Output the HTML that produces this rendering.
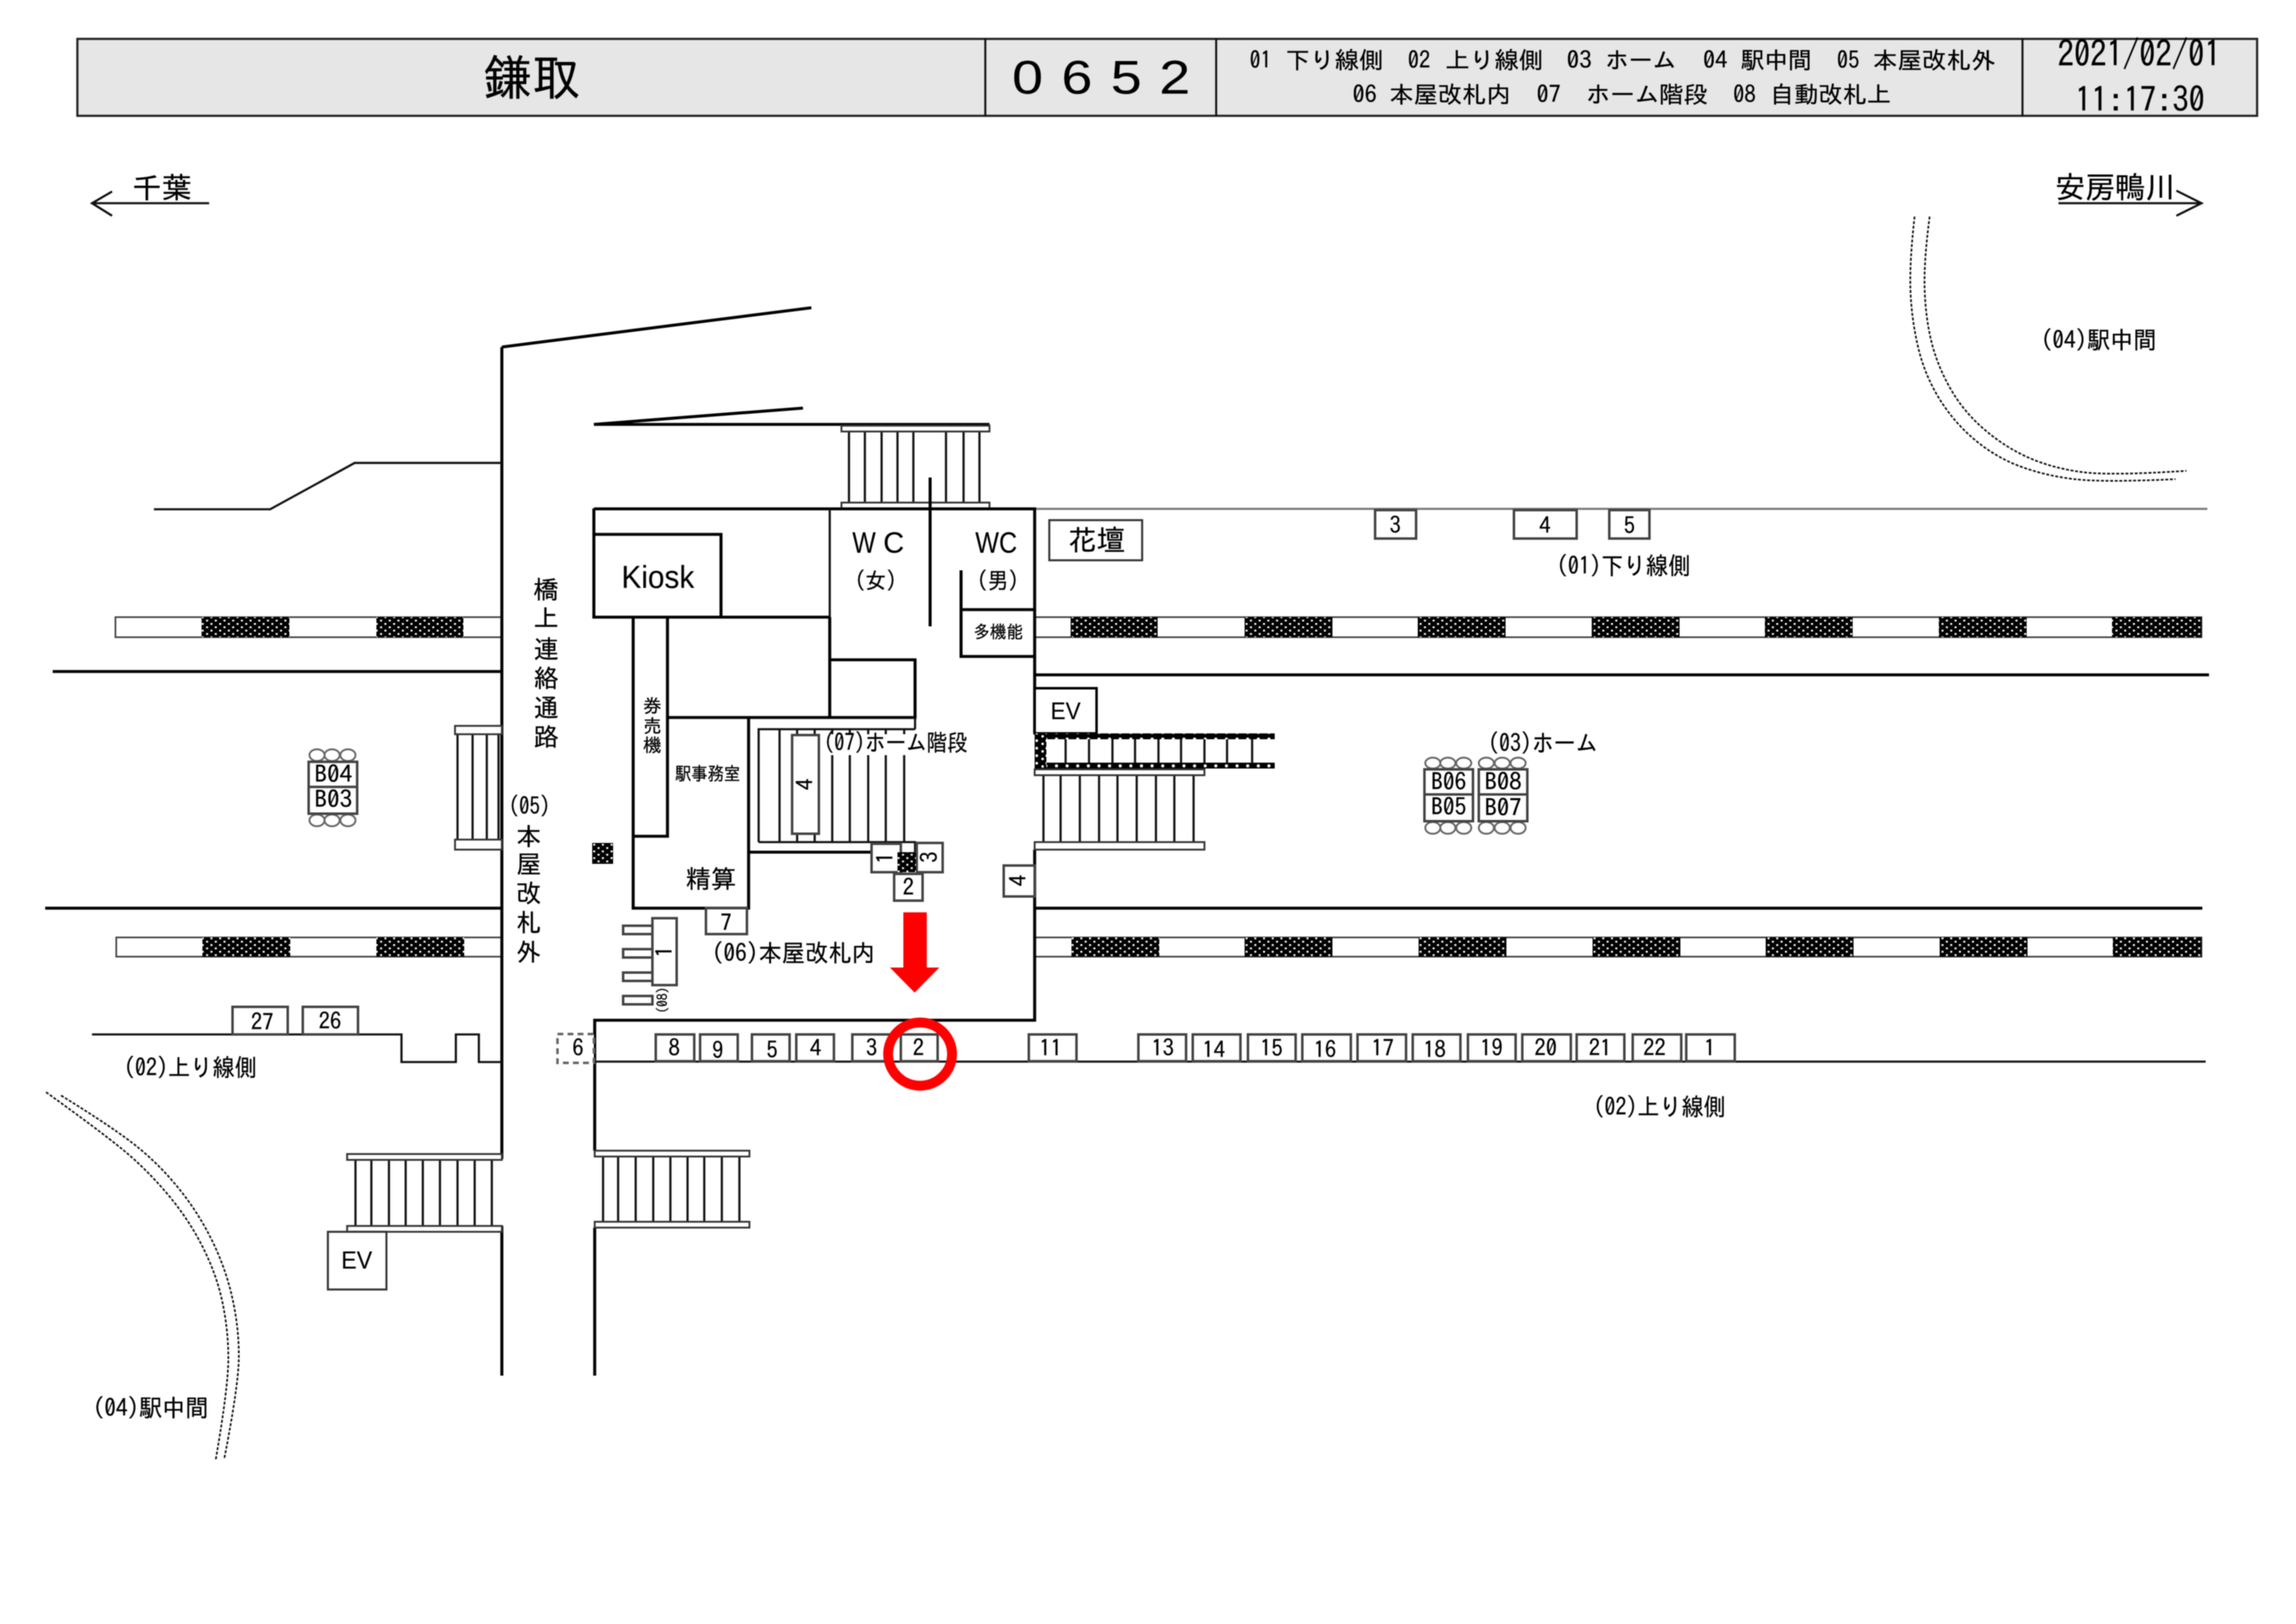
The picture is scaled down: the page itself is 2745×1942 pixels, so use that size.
<!DOCTYPE html>
<html lang="ja">
<head>
<meta charset="utf-8">
<title>鎌取 0652</title>
<style>
html,body{margin:0;padding:0;background:#fff}
svg{display:block;filter:blur(.5px)}
text{font-family:"IPAGothic","Liberation Sans","Noto Sans CJK JP",sans-serif;fill:#000;stroke:#000;stroke-width:.3}
.ls{font-family:"Liberation Sans","IPAGothic",sans-serif;stroke-width:.1}
.n{font-size:27px;text-anchor:middle}
.box{fill:#fff;stroke:#444;stroke-width:3}
.rail{fill:#fff;stroke:#333;stroke-width:2.2}
.t{stroke:#000;stroke-width:3.6;fill:none}
.m{stroke:#111;stroke-width:2.6;fill:none}
.s{stroke:#222;stroke-width:2;fill:none}
.c{fill:#fff;stroke:#666;stroke-width:2.2}
.d{stroke:#111;stroke-width:2;fill:none;stroke-dasharray:3.5 2}
</style>
</head>
<body>
<svg xmlns="http://www.w3.org/2000/svg" width="2745" height="1942" viewBox="0 0 2745 1942">
<defs>
<pattern id="dots" width="10.4" height="8" patternUnits="userSpaceOnUse">
<rect width="10.4" height="8" fill="#000"/>
<rect x="2" y="1" width="2.4" height="2.2" fill="#fff"/>
<rect x="7.2" y="5" width="2.4" height="2.2" fill="#fff"/>
</pattern>
<pattern id="esc" width="12.7" height="8" patternUnits="userSpaceOnUse">
<rect width="12.7" height="8" fill="#000"/>
<rect x="4" y="2" width="3.6" height="3.6" rx="1.5" fill="#fff"/>
</pattern>
<pattern id="escv" width="12" height="9" patternUnits="userSpaceOnUse">
<rect width="12" height="9" fill="#000"/>
<rect x="2" y="2" width="3" height="3.4" rx="1.4" fill="#fff"/>
<rect x="9" y="6" width="3" height="3" rx="1.4" fill="#fff"/>
</pattern>
</defs>
<rect width="2745" height="1942" fill="#fff"/>

<!-- header -->
<rect x="92.5" y="46.5" width="2606" height="92" fill="#e6e6e6" stroke="#222" stroke-width="2.6"/>
<path d="M1178 46V139M1454 46V139M2418 46V139" stroke="#111" stroke-width="2.4" fill="none"/>
<text x="578" y="114" font-size="58" textLength="116" lengthAdjust="spacingAndGlyphs" stroke-width=".8">鎌取</text>
<g font-size="57">
<text class="ls" x="1210" y="112" textLength="37" lengthAdjust="spacingAndGlyphs">0</text>
<text class="ls" x="1269" y="112" textLength="37" lengthAdjust="spacingAndGlyphs">6</text>
<text class="ls" x="1328" y="112" textLength="37" lengthAdjust="spacingAndGlyphs">5</text>
<text class="ls" x="1386" y="112" textLength="37" lengthAdjust="spacingAndGlyphs">2</text>
</g>
<g font-size="28">
<text x="1494" y="82" textLength="26" lengthAdjust="spacingAndGlyphs">01</text>
<text x="1537" y="82" textLength="117" lengthAdjust="spacingAndGlyphs">下り線側</text>
<text x="1683" y="82" textLength="27" lengthAdjust="spacingAndGlyphs">02</text>
<text x="1728" y="82" textLength="117" lengthAdjust="spacingAndGlyphs">上り線側</text>
<text x="1873" y="82" textLength="30" lengthAdjust="spacingAndGlyphs">03</text>
<text x="1919" y="82" textLength="85" lengthAdjust="spacingAndGlyphs">ホーム</text>
<text x="2036" y="82" textLength="29" lengthAdjust="spacingAndGlyphs">04</text>
<text x="2081" y="82" textLength="85" lengthAdjust="spacingAndGlyphs">駅中間</text>
<text x="2196" y="82" textLength="27" lengthAdjust="spacingAndGlyphs">05</text>
<text x="2239" y="82" textLength="147" lengthAdjust="spacingAndGlyphs">本屋改札外</text>
<text x="1617" y="123" textLength="29" lengthAdjust="spacingAndGlyphs">06</text>
<text x="1661" y="123" textLength="145" lengthAdjust="spacingAndGlyphs">本屋改札内</text>
<text x="1837" y="123" textLength="29" lengthAdjust="spacingAndGlyphs">07</text>
<text x="1896" y="123" textLength="146" lengthAdjust="spacingAndGlyphs">ホーム階段</text>
<text x="2072" y="123" textLength="27" lengthAdjust="spacingAndGlyphs">08</text>
<text x="2116" y="123" textLength="145" lengthAdjust="spacingAndGlyphs">自動改札上</text>
</g>
<text x="2460" y="80" font-size="43" textLength="195" lengthAdjust="spacingAndGlyphs">2021/02/01</text>
<text x="2481" y="134" font-size="41" textLength="155" lengthAdjust="spacingAndGlyphs">11:17:30</text>

<!-- direction arrows -->
<path d="M250 243H110M134 229L110 243L134 258" class="m"/>
<text x="158" y="237" font-size="35" textLength="71" lengthAdjust="spacingAndGlyphs">千葉</text>
<path d="M2461 243H2632M2602 228L2632 243L2602 258" class="m"/>
<text x="2457" y="237" font-size="36" textLength="144" lengthAdjust="spacingAndGlyphs">安房鴨川</text>

<!-- curved dotted -->
<path class="d" d="M2289 259Q2283 312 2284 345Q2285 379 2292.5 412Q2300 446 2317.5 475Q2335 504 2360.5 525.5Q2386 547 2416 558Q2446 569 2480.5 573Q2515 577 2601 573"/>
<path class="d" d="M2307 259Q2300 312 2301 345Q2302 379 2309 408Q2316 437 2332 465Q2348 493 2373.5 514.5Q2399 536 2427 548Q2455 560 2489 564.5Q2523 569 2614 563"/>
<path class="d" d="M73 1310Q138 1350 165.5 1372.5Q193 1395 216 1424Q239 1453 255 1486.5Q271 1520 278.5 1555.5Q286 1591 285.5 1624.5Q285 1658 268 1745"/>
<path class="d" d="M55 1306Q119 1352 146.5 1374.5Q174 1397 199.5 1427Q225 1457 242 1490.5Q259 1524 266 1557.5Q273 1591 273 1624.5Q273 1658 258 1745"/>

<!-- edge strips -->
<g>
<rect x="138" y="738" width="462" height="24" fill="#fff" stroke="#444" stroke-width="2"/>
<rect x="139" y="1121" width="461" height="23" fill="#fff" stroke="#444" stroke-width="2"/>
<rect x="1237" y="738" width="1395" height="24" fill="#fff" stroke="#444" stroke-width="2"/>
<rect x="1237" y="1121" width="1395" height="23" fill="#fff" stroke="#444" stroke-width="2"/>
<g fill="url(#dots)">
<rect x="241" y="738" width="105" height="24"/><rect x="450" y="738" width="104" height="24"/>
<rect x="242" y="1121" width="105" height="23"/><rect x="450" y="1121" width="105" height="23"/>
<rect x="1280" y="738" width="104" height="24"/><rect x="1488" y="738" width="105" height="24"/><rect x="1695" y="738" width="105" height="24"/><rect x="1903" y="738" width="105" height="24"/><rect x="2110" y="738" width="105" height="24"/><rect x="2318" y="738" width="105" height="24"/><rect x="2525" y="738" width="107" height="24"/>
<rect x="1281" y="1121" width="105" height="23"/><rect x="1488" y="1121" width="105" height="23"/><rect x="1696" y="1121" width="105" height="23"/><rect x="1904" y="1121" width="105" height="23"/><rect x="2111" y="1121" width="105" height="23"/><rect x="2319" y="1121" width="105" height="23"/><rect x="2526" y="1121" width="106" height="23"/>
</g>
</g>

<!-- track lines -->
<path class="t" d="M63 803H600M1237 807H2641M54 1086H600M1237 1086H2633"/>

<!-- roofs and outer walls -->
<path d="M970 368L600 415" class="t"/>
<path class="t" d="M600 415V1386M600 1466V1645"/>
<path class="t" d="M710 507.5H1183M710 507.5L960 488"/>
<path class="m" d="M184 609H323L424 553.6H600"/>
<path d="M1237 608.5H2639" stroke="#777" stroke-width="2.4"/>

<!-- stair top -->
<path class="m" d="M1015 516V601M1034 516V601M1054 516V601M1073 516V601M1092 516V601M1131 516V601M1152 516V601M1171 516V601"/>
<rect class="rail" x="1006" y="509" width="177" height="7"/>
<rect class="rail" x="1006" y="601" width="177" height="7"/>

<!-- building -->
<path class="t" d="M710 608.5H1237V877M1237 1016V1220H711V1376M711 1468V1645"/>
<path class="t" d="M710 608V738H992M710 639H862V738"/>
<path class="m" d="M992 608V738"/>
<path class="t" d="M992 738V858M757 738V1086H895V858M798 738V1000H757M798 858H1094V789H992"/>
<path class="t" d="M1112 571V749"/>
<path class="t" d="M1149 682V785H1237M1149 729H1237"/>
<path class="m" d="M1094 858V872"/>
<path class="t" d="M895 1019H1042"/>
<path class="m" d="M907 1007H1094V1019M907 1007V872H1094"/>
<path class="m" d="M932 872V1007M953 872V1007M974 872V1007M995 872V1007M1016 872V1007M1038 872V1007M1059 872V1007M1081 872V1007"/>
<rect x="986" y="878" width="171" height="25" fill="#fff"/>
<rect class="box" x="947" y="879" width="32" height="118"/>
<text class="n" transform="rotate(-90 963 938)" x="963" y="947">4</text>

<!-- labels inside building -->
<text x="743" y="703" class="ls" font-size="38" textLength="87" lengthAdjust="spacingAndGlyphs">Kiosk</text>
<text x="1019" y="661" class="ls" font-size="35" textLength="28" lengthAdjust="spacingAndGlyphs">W</text><text x="1056" y="661" class="ls" font-size="35" textLength="25" lengthAdjust="spacingAndGlyphs">C</text>
<text x="1022" y="704" font-size="27" textLength="50" lengthAdjust="spacingAndGlyphs">(女)</text>
<text x="1166" y="661" class="ls" font-size="35" textLength="50" lengthAdjust="spacingAndGlyphs">WC</text>
<text x="1168" y="704" font-size="27" textLength="50" lengthAdjust="spacingAndGlyphs">(男)</text>
<text x="1164" y="763" font-size="21" textLength="59" lengthAdjust="spacingAndGlyphs">多機能</text>
<g font-size="22" text-anchor="middle"><text x="780" y="852">券</text><text x="780" y="876">売</text><text x="780" y="899">機</text></g>
<text x="807" y="933" font-size="22" textLength="78" lengthAdjust="spacingAndGlyphs">駅事務室</text>
<text x="985" y="898" font-size="28" textLength="172" lengthAdjust="spacingAndGlyphs">(07)ホーム階段</text>
<text x="820" y="1062" font-size="30" textLength="60" lengthAdjust="spacingAndGlyphs">精算</text>
<text x="851" y="1150" font-size="29" textLength="195" lengthAdjust="spacingAndGlyphs">(06)本屋改札内</text>

<!-- vertical labels -->
<g font-size="30" text-anchor="middle">
<text x="653" y="716">橋</text><text x="653" y="750">上</text><text x="653" y="787">連</text><text x="653" y="822">絡</text><text x="653" y="857">通</text><text x="653" y="892">路</text>
<text x="632" y="1011">本</text><text x="632" y="1044">屋</text><text x="632" y="1079">改</text><text x="632" y="1114">札</text><text x="632" y="1149">外</text>
</g>
<text x="608" y="974" font-size="28" textLength="50" lengthAdjust="spacingAndGlyphs">(05)</text>

<!-- 花壇 -->
<rect x="1254.5" y="622" width="111" height="48" fill="#fff" stroke="#333" stroke-width="2.4"/>
<text x="1277" y="658" font-size="34" textLength="68" lengthAdjust="spacingAndGlyphs">花壇</text>

<!-- top boxes -->
<rect class="box" x="1644" y="610" width="49" height="34"/><text class="n" x="1668" y="638">3</text>
<rect class="box" x="1810" y="610" width="75" height="34"/><text class="n" x="1847" y="638">4</text>
<rect class="box" x="1924" y="610" width="48" height="34"/><text class="n" x="1948" y="638">5</text>
<text x="1861" y="687" font-size="29" textLength="160" lengthAdjust="spacingAndGlyphs">(01)下り線側</text>
<text x="2440" y="417" font-size="29" textLength="138" lengthAdjust="spacingAndGlyphs">(04)駅中間</text>

<!-- EV + escalator right -->
<rect x="1237" y="823" width="74" height="54" fill="#fff" stroke="#000" stroke-width="3"/>
<text x="1256" y="860" class="ls" font-size="29" textLength="36" lengthAdjust="spacingAndGlyphs">EV</text>
<rect x="1237" y="877" width="287" height="7" fill="url(#esc)"/>
<rect x="1237" y="912" width="287" height="7" fill="url(#esc)"/>
<rect x="1237" y="877" width="14" height="42" fill="url(#escv)"/>
<path class="m" d="M1274 884V912M1302 884V912M1330 884V912M1357 884V912M1385 884V912M1412 884V912M1440 884V912M1467 884V912M1497 884V912"/>

<!-- right stair -->
<path class="m" d="M1247.5 927V1007M1268 927V1007M1291 927V1007M1314 927V1007M1336 927V1007M1359 927V1007M1382 927V1007M1404 927V1007M1427 927V1007"/>
<rect class="rail" x="1237" y="920" width="203" height="7"/>
<rect class="rail" x="1237" y="1007" width="203" height="9"/>

<!-- left small stair -->
<path class="m" d="M547 878V1004M565 878V1012M582 878V1004M596 878V1004"/>
<rect class="rail" x="544" y="868" width="56" height="10"/>
<rect class="rail" x="544" y="1004" width="56" height="12"/>

<!-- B boxes left -->
<ellipse class="c" cx="379" cy="903" rx="9" ry="7"/><ellipse class="c" cx="397" cy="903" rx="9" ry="7"/><ellipse class="c" cx="416" cy="903" rx="9" ry="7"/>
<ellipse class="c" cx="379" cy="981" rx="9" ry="7"/><ellipse class="c" cx="397" cy="981" rx="9" ry="7"/><ellipse class="c" cx="416" cy="981" rx="9" ry="7"/>
<rect class="box" x="369" y="911" width="58" height="30"/><rect class="box" x="369" y="941" width="58" height="32"/>
<text x="376" y="936" font-size="28" textLength="45" lengthAdjust="spacingAndGlyphs">B04</text>
<text x="376" y="966" font-size="28" textLength="45" lengthAdjust="spacingAndGlyphs">B03</text>

<!-- B boxes right -->
<ellipse class="c" cx="1713" cy="912.5" rx="9" ry="6.5"/><ellipse class="c" cx="1731" cy="912.5" rx="9" ry="6.5"/><ellipse class="c" cx="1750" cy="912.5" rx="9" ry="6.5"/>
<ellipse class="c" cx="1777" cy="912.5" rx="9" ry="6.5"/><ellipse class="c" cx="1796" cy="912.5" rx="9" ry="6.5"/><ellipse class="c" cx="1815" cy="912.5" rx="9" ry="6.5"/>
<ellipse class="c" cx="1713" cy="990" rx="9" ry="7"/><ellipse class="c" cx="1731" cy="990" rx="9" ry="7"/><ellipse class="c" cx="1750" cy="990" rx="9" ry="7"/>
<ellipse class="c" cx="1777" cy="990" rx="9" ry="7"/><ellipse class="c" cx="1796" cy="990" rx="9" ry="7"/><ellipse class="c" cx="1815" cy="990" rx="9" ry="7"/>
<rect class="box" x="1703" y="920" width="58" height="30"/><rect class="box" x="1703" y="950" width="58" height="32"/>
<rect class="box" x="1768" y="920" width="58" height="30"/><rect class="box" x="1768" y="950" width="58" height="32"/>
<g font-size="28">
<text x="1711" y="945" textLength="42" lengthAdjust="spacingAndGlyphs">B06</text>
<text x="1711" y="975" textLength="42" lengthAdjust="spacingAndGlyphs">B05</text>
<text x="1775" y="945" textLength="44" lengthAdjust="spacingAndGlyphs">B08</text>
<text x="1775" y="976" textLength="44" lengthAdjust="spacingAndGlyphs">B07</text>
</g>
<text x="1779" y="899" font-size="29" textLength="131" lengthAdjust="spacingAndGlyphs">(03)ホーム</text>

<!-- small inside boxes -->
<rect class="box" x="1042" y="1009" width="35" height="34"/><text class="n" transform="rotate(-90 1059 1026)" x="1059" y="1035">1</text>
<rect class="box" x="1096" y="1008" width="31" height="35"/><text class="n" transform="rotate(-90 1112 1025)" x="1112" y="1034">3</text>
<rect x="1073" y="1019" width="22" height="24" fill="url(#dots)"/>
<rect class="box" x="1069" y="1045" width="34" height="32"/><text class="n" x="1086" y="1071">2</text>
<rect x="708" y="1008" width="25" height="25" fill="url(#dots)"/>
<rect class="box" x="1200" y="1035" width="37" height="37"/><text class="n" transform="rotate(-90 1218 1053)" x="1218" y="1062">4</text>
<rect class="box" x="844" y="1086" width="49" height="31"/><text class="n" x="868" y="1113">7</text>

<!-- gate -->
<rect class="box" x="745" y="1107" width="35" height="10"/><rect class="box" x="745" y="1135" width="35" height="10"/><rect class="box" x="745" y="1163" width="35" height="10"/><rect class="box" x="745" y="1191" width="35" height="10"/>
<rect class="box" x="780" y="1098" width="29" height="80"/>
<text class="n" transform="rotate(-90 795 1138)" x="795" y="1147">1</text>
<text transform="rotate(-90 793 1196)" x="793" y="1201" font-size="16" text-anchor="middle">(08)</text>

<!-- platform lines -->
<path class="m" d="M711 1269.5H2637"/>
<path class="m" d="M110 1237H480V1270H545V1237H572.5V1270H600"/>
<rect class="box" x="278" y="1204" width="66" height="33"/><text class="n" x="313.5" y="1232">27</text>
<rect class="box" x="362" y="1204" width="66" height="33"/><text class="n" x="394.5" y="1231">26</text>
<text x="148" y="1287" font-size="29" textLength="159" lengthAdjust="spacingAndGlyphs">(02)上り線側</text>
<text x="111" y="1694" font-size="29" textLength="138" lengthAdjust="spacingAndGlyphs">(04)駅中間</text>
<text x="1905" y="1334" font-size="29" textLength="158" lengthAdjust="spacingAndGlyphs">(02)上り線側</text>

<!-- bottom-left stair & EV -->
<path class="m" d="M425 1387V1466M444 1387V1466M465 1387V1466M485 1387V1466M505.5 1387V1466M526 1387V1466M547 1387V1466M567.5 1387V1466M588 1387V1466"/>
<rect class="rail" x="415" y="1380" width="185" height="7"/>
<rect class="rail" x="415" y="1466" width="185" height="7"/>
<rect x="392" y="1473" width="70" height="69" fill="#fff" stroke="#333" stroke-width="2.4"/>
<text x="408" y="1517" class="ls" font-size="30" textLength="37" lengthAdjust="spacingAndGlyphs">EV</text>

<!-- bottom-center stair -->
<path class="m" d="M721 1383V1461M739 1383V1461M760 1383V1461M781 1383V1461M801.5 1383V1461M822 1383V1461M842 1383V1461M863 1383V1461M884 1383V1461"/>
<rect class="rail" x="711" y="1376" width="185" height="7"/>
<rect class="rail" x="711" y="1461" width="185" height="7"/>

<!-- numbered boxes on line -->
<rect x="666.5" y="1236.5" width="43.5" height="34.5" fill="#fff" stroke="#666" stroke-width="3" stroke-dasharray="7 5"/>
<text class="n" x="691" y="1263">6</text>
<rect class="box" x="784" y="1237" width="46" height="32"/><text class="n" x="806" y="1263">8</text>
<rect class="box" x="837" y="1237" width="45" height="32"/><text class="n" x="858" y="1266">9</text>
<rect class="box" x="899" y="1237" width="45" height="32"/><text class="n" x="923" y="1265">5</text>
<rect class="box" x="952" y="1237" width="45" height="32"/><text class="n" x="975" y="1263">4</text>
<rect class="box" x="1019" y="1237" width="45" height="32"/><text class="n" x="1042" y="1263">3</text>
<rect class="box" x="1077" y="1237" width="44" height="32"/><text class="n" x="1098" y="1263">2</text>
<rect class="box" x="1230" y="1237" width="57" height="32"/><text class="n" x="1256" y="1263">11</text>
<rect class="box" x="1361" y="1237" width="57" height="32"/><text class="n" x="1390" y="1263">13</text>
<rect class="box" x="1426" y="1237" width="57" height="32"/><text class="n" x="1451" y="1265">14</text>
<rect class="box" x="1492" y="1237" width="57" height="32"/><text class="n" x="1520" y="1263">15</text>
<rect class="box" x="1557" y="1237" width="58" height="32"/><text class="n" x="1584" y="1265">16</text>
<rect class="box" x="1623" y="1237" width="58" height="32"/><text class="n" x="1653" y="1263">17</text>
<rect class="box" x="1689" y="1237" width="57" height="32"/><text class="n" x="1715" y="1265">18</text>
<rect class="box" x="1755" y="1237" width="57" height="32"/><text class="n" x="1783" y="1263">19</text>
<rect class="box" x="1820" y="1237" width="58" height="32"/><text class="n" x="1848" y="1263">20</text>
<rect class="box" x="1885" y="1237" width="57" height="32"/><text class="n" x="1913" y="1263">21</text>
<rect class="box" x="1952" y="1237" width="58" height="32"/><text class="n" x="1978" y="1263">22</text>
<rect class="box" x="2016" y="1237" width="58" height="32"/><text class="n" x="2044" y="1263">1</text>

<!-- red marks -->
<polygon fill="#ff0000" points="1080,1091 1108,1091 1108,1157 1123,1157 1093.5,1187 1064,1157 1080,1157"/>
<ellipse cx="1100" cy="1260.5" rx="38.2" ry="37.8" fill="none" stroke="#ff0000" stroke-width="11.8"/>
</svg>
</body>
</html>
